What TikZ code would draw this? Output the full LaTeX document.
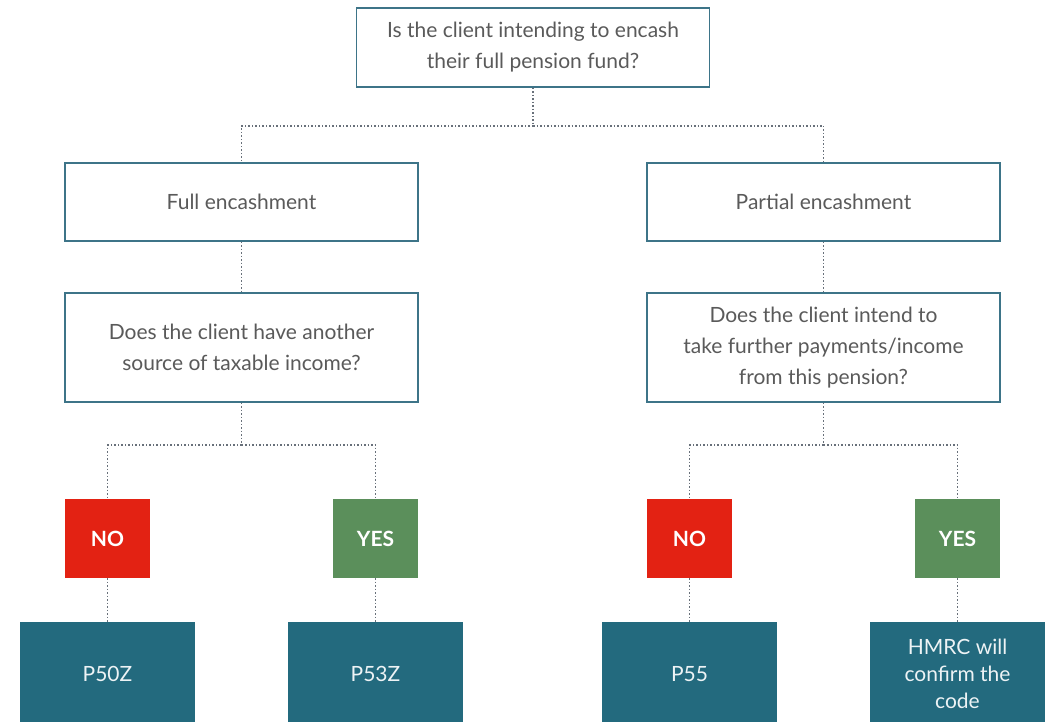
\documentclass[tikz,border=0pt]{standalone}
\usepackage{fontspec}
\setmainfont{Lato}
\definecolor{boxline}{HTML}{3D7488}
\definecolor{txtgray}{HTML}{5A5A5A}
\definecolor{nored}{HTML}{E32213}
\definecolor{yesgreen}{HTML}{5B8F5B}
\definecolor{codeteal}{HTML}{236A7E}
\definecolor{dotgray}{HTML}{68707A}
\begin{document}
\begin{tikzpicture}[x=1pt,y=-1pt,font=\fontsize{21}{31}\selectfont,
  question/.style={draw=boxline,line width=1.2pt,fill=white,text=txtgray,
    minimum width=353pt,align=center,inner sep=0pt},
  answer/.style={minimum width=85pt,minimum height=79pt,inner sep=0pt,
    text=white,font=\fontsize{21}{30}\selectfont\bfseries},
  code/.style={fill=codeteal,text=white!92!codeteal,minimum width=175pt,
    minimum height=104pt,align=center,inner sep=0pt,
    font=\fontsize{21}{27}\selectfont},
  link/.style={draw=dotgray,dotted,line width=1.5pt}]
\useasboundingbox (0,0) rectangle (1053,722);
\clip (0,0) rectangle (1053,722);

% questions
\node[question,minimum height=79pt] (top) at (533,47.5)
  {Is the client intending to encash\\their full pension fund?};
\node[question,minimum height=78pt] (full) at (241.5,202) {Full encashment};
\node[question,minimum height=78pt] (part) at (823.5,202) {Partial encashment};
\node[question,minimum height=109pt] (qleft) at (241.5,347.5)
  {Does the client have another\\source of taxable income?};
\node[question,minimum height=109pt] (qright) at (823.5,347.5)
  {Does the client intend to\\take further payments/income\\from this pension?};

% answers
\foreach \n/\x/\c/\t in {noL/107.5/nored/NO,yesL/375.5/yesgreen/YES,
                          noR/689.5/nored/NO,yesR/957.5/yesgreen/YES}
{
  \node[answer,fill=\c] (\n) at (\x,538.5) {\t};
}

% codes
\node[code] (p50) at (107.5,674) {P50Z};
\node[code] (p53) at (375.5,674) {P53Z};
\node[code] (p55) at (689.5,674) {P55};
\node[code] (hmrc) at (957.5,674) {HMRC will\\confirm the\\code};

% connectors
\coordinate (s0) at (533,126);
\coordinate (s1) at (241.5,445);
\coordinate (s2) at (823.5,445);

\draw[link] (top.south) -- (s0);
\draw[link] (s0) -| (full.north);
\draw[link] (s0) -| (part.north);
\draw[link] (full.south) -- (qleft.north);
\draw[link] (part.south) -- (qright.north);

\draw[link] (qleft.south) -- (s1);
\draw[link] (s1) -| (noL.north);
\draw[link] (s1) -| (yesL.north);
\draw[link] (qright.south) -- (s2);
\draw[link] (s2) -| (noR.north);
\draw[link] (s2) -| (yesR.north);

\draw[link] (noL.south) -- (p50.north);
\draw[link] (yesL.south) -- (p53.north);
\draw[link] (noR.south) -- (p55.north);
\draw[link] (yesR.south) -- (hmrc.north);
\end{tikzpicture}
\end{document}
